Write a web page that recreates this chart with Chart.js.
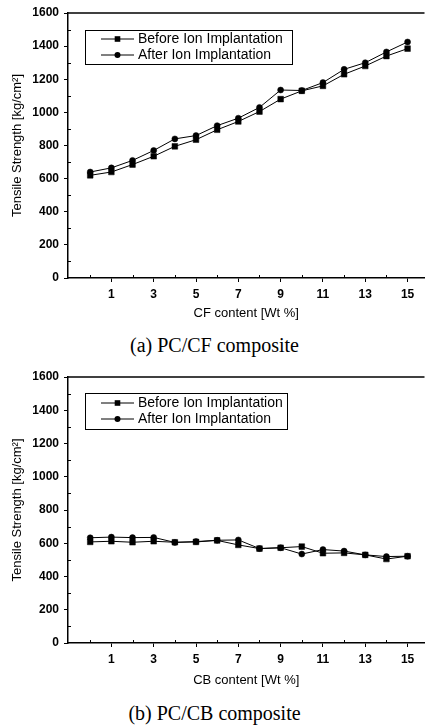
<!DOCTYPE html>
<html>
<head>
<meta charset="utf-8">
<script src="https://cdn.jsdelivr.net/npm/chart.js@4.4.0/dist/chart.umd.min.js"></script>
<style>
html, body { margin: 0; padding: 0; background: #fff; }
body { width: 429px; height: 727px; position: relative; overflow: hidden; }
.box { position: absolute; left: 0; width: 429px; }
.cap { position: absolute; left: 0; width: 429px; text-align: center; color: #000;
       font-family: "Liberation Serif", "Times New Roman", serif; font-size: 20px; line-height: 22px; }
</style>
</head>
<body>
<div class="box" style="top:0;height:322px"><canvas id="cf"></canvas></div>
<div class="cap" style="top:334px">(a) PC/CF composite</div>
<div class="box" style="top:360px;height:332px"><canvas id="cb"></canvas></div>
<div class="cap" style="top:702px">(b) PC/CB composite</div>
<script>
// wt% content, one point per integer
const wtContent = [0, 1, 2, 3, 4, 5, 6, 7, 8, 9, 10, 11, 12, 13, 14, 15];
const xTickLabels = [1, 3, 5, 7, 9, 11, 13, 15];
const xMinorTicks = [0, 2, 4, 6, 8, 10, 12, 14];
const yTickValues = [0, 200, 400, 600, 800, 1000, 1200, 1400, 1600];
const yMinorTicks = [100, 300, 500, 700, 900, 1100, 1300, 1500];

// (a) PC/CF composite
const cfBefore = [620, 640, 685, 735, 795, 835, 895, 945, 1005, 1080, 1130, 1160, 1230, 1280, 1340, 1385];
const cfAfter  = [640, 665, 710, 770, 840, 860, 920, 965, 1030, 1135, 1132, 1180, 1260, 1300, 1365, 1425];

// (b) PC/CB composite
const cbBefore = [608, 612, 606, 612, 606, 608, 617, 590, 568, 573, 580, 540, 542, 530, 505, 522];
const cbAfter  = [633, 637, 634, 635, 605, 610, 618, 620, 568, 573, 535, 562, 553, 530, 520, 522];

const seriesNames = ['Before Ion Implantation', 'After Ion Implantation'];

const SANS = '"Liberation Sans", Arial, sans-serif';

// top border of the frame + small inward minor ticks
const framePlugin = {
  id: 'frame',
  afterDraw(chart) {
    const {ctx, chartArea: a, scales} = chart;
    ctx.save();
    ctx.strokeStyle = '#000';
    ctx.lineWidth = 1.5;
    ctx.beginPath();
    ctx.moveTo(a.left, a.top);
    ctx.lineTo(a.right, a.top);
    ctx.stroke();
    ctx.lineWidth = 1;
    ctx.beginPath();
    xMinorTicks.forEach(v => {
      const px = Math.round(scales.x.getPixelForValue(v)) + 0.5;
      ctx.moveTo(px, a.bottom);
      ctx.lineTo(px, a.bottom - 3);
    });
    yMinorTicks.forEach(v => {
      const py = Math.round(scales.y.getPixelForValue(v)) + 0.5;
      ctx.moveTo(a.left, py);
      ctx.lineTo(a.left + 3, py);
    });
    ctx.stroke();
    ctx.restore();
  }
};

// boxed legend inside the plot, Origin style
const boxLegend = {
  id: 'boxLegend',
  afterDraw(chart, args, opts) {
    const ctx = chart.ctx;
    ctx.save();
    ctx.strokeStyle = '#000';
    ctx.lineWidth = 1;
    ctx.strokeRect(opts.x + 0.5, opts.y + 0.5, opts.w, opts.h);
    chart.data.datasets.forEach((ds, i) => {
      const y = opts.rowY[i];
      ctx.beginPath();
      ctx.moveTo(opts.lineX0, y);
      ctx.lineTo(opts.lineX1, y);
      ctx.lineWidth = 1;
      ctx.stroke();
      const mx = (opts.lineX0 + opts.lineX1) / 2;
      ctx.fillStyle = '#000';
      ctx.beginPath();
      if (ds.pointStyle === 'rect') {
        ctx.rect(mx - 2.8, y - 2.8, 5.6, 5.6);
      } else {
        ctx.arc(mx, y, 3, 0, Math.PI * 2);
      }
      ctx.fill();
      ctx.font = '14px ' + SANS;
      ctx.textAlign = 'left';
      ctx.textBaseline = 'middle';
      ctx.fillText(ds.label, opts.textX, y + 0.5);
    });
    ctx.restore();
  }
};

function makeChart(id, before, after, xTitle, lay) {
  const pts = arr => wtContent.map((x, i) => ({x: x, y: arr[i]}));
  return new Chart(document.getElementById(id), {
    type: 'line',
    data: {
      datasets: [
        {label: seriesNames[0], data: pts(before), pointStyle: 'rect', pointRadius: 4,
         borderColor: '#000', backgroundColor: '#000', borderWidth: 1, pointBorderWidth: 0.5},
        {label: seriesNames[1], data: pts(after), pointStyle: 'circle', pointRadius: 3,
         borderColor: '#000', backgroundColor: '#000', borderWidth: 1, pointBorderWidth: 0.5}
      ]
    },
    options: {
      responsive: true,
      maintainAspectRatio: false,
      animation: false,
      layout: {padding: {top: lay.top, right: 0, left: 0, bottom: 0}},
      plugins: {
        legend: {display: false},
        tooltip: {enabled: false},
        boxLegend: lay.legend
      },
      scales: {
        x: {
          type: 'linear', min: -1.05, max: 15.8,
          afterBuildTicks: s => { s.ticks = xTickLabels.map(v => ({value: v})); },
          afterFit: s => { s.height = lay.xh; },
          ticks: {
            autoSkip: false, maxRotation: 0, padding: 5, color: '#000',
            font: {family: SANS, size: 12, weight: 'bold'},
            callback: v => String(v)
          },
          grid: {drawOnChartArea: false, drawTicks: true, tickLength: 4, color: '#000'},
          border: {display: true, color: '#000', width: 1.5},
          title: {display: true, text: xTitle, color: '#000',
                  font: {family: SANS, size: 13}, padding: {top: 0, bottom: lay.titlePad}}
        },
        y: {
          min: 0, max: 1600,
          afterBuildTicks: s => { s.ticks = yTickValues.map(v => ({value: v})); },
          afterFit: s => { s.width = 68; },
          ticks: {padding: 5, color: '#000', font: {family: SANS, size: 12, weight: 'bold'},
                  callback: v => String(v)},
          grid: {drawOnChartArea: false, drawTicks: true, tickLength: 4, color: '#000'},
          border: {display: true, color: '#000', width: 1.5},
          title: {display: true, text: 'Tensile Strength [kg/cm²]', color: '#000',
                  font: {family: SANS, size: 13}, padding: {top: 10, bottom: 0}}
        }
      }
    },
    plugins: [framePlugin, boxLegend]
  });
}

makeChart('cf', cfBefore, cfAfter, 'CF content [Wt %]', {
  top: 13, xh: 44, titlePad: 1,
  legend: {x: 85, y: 30, w: 207, h: 34, rowY: [39, 55], lineX0: 101, lineX1: 134, textX: 138}
});
makeChart('cb', cbBefore, cbAfter, 'CB content [Wt %]', {
  top: 17, xh: 49, titlePad: 4,
  legend: {x: 85, y: 33, w: 202, h: 36, rowY: [43, 59], lineX0: 101, lineX1: 134, textX: 138}
});
</script>
</body>
</html>
